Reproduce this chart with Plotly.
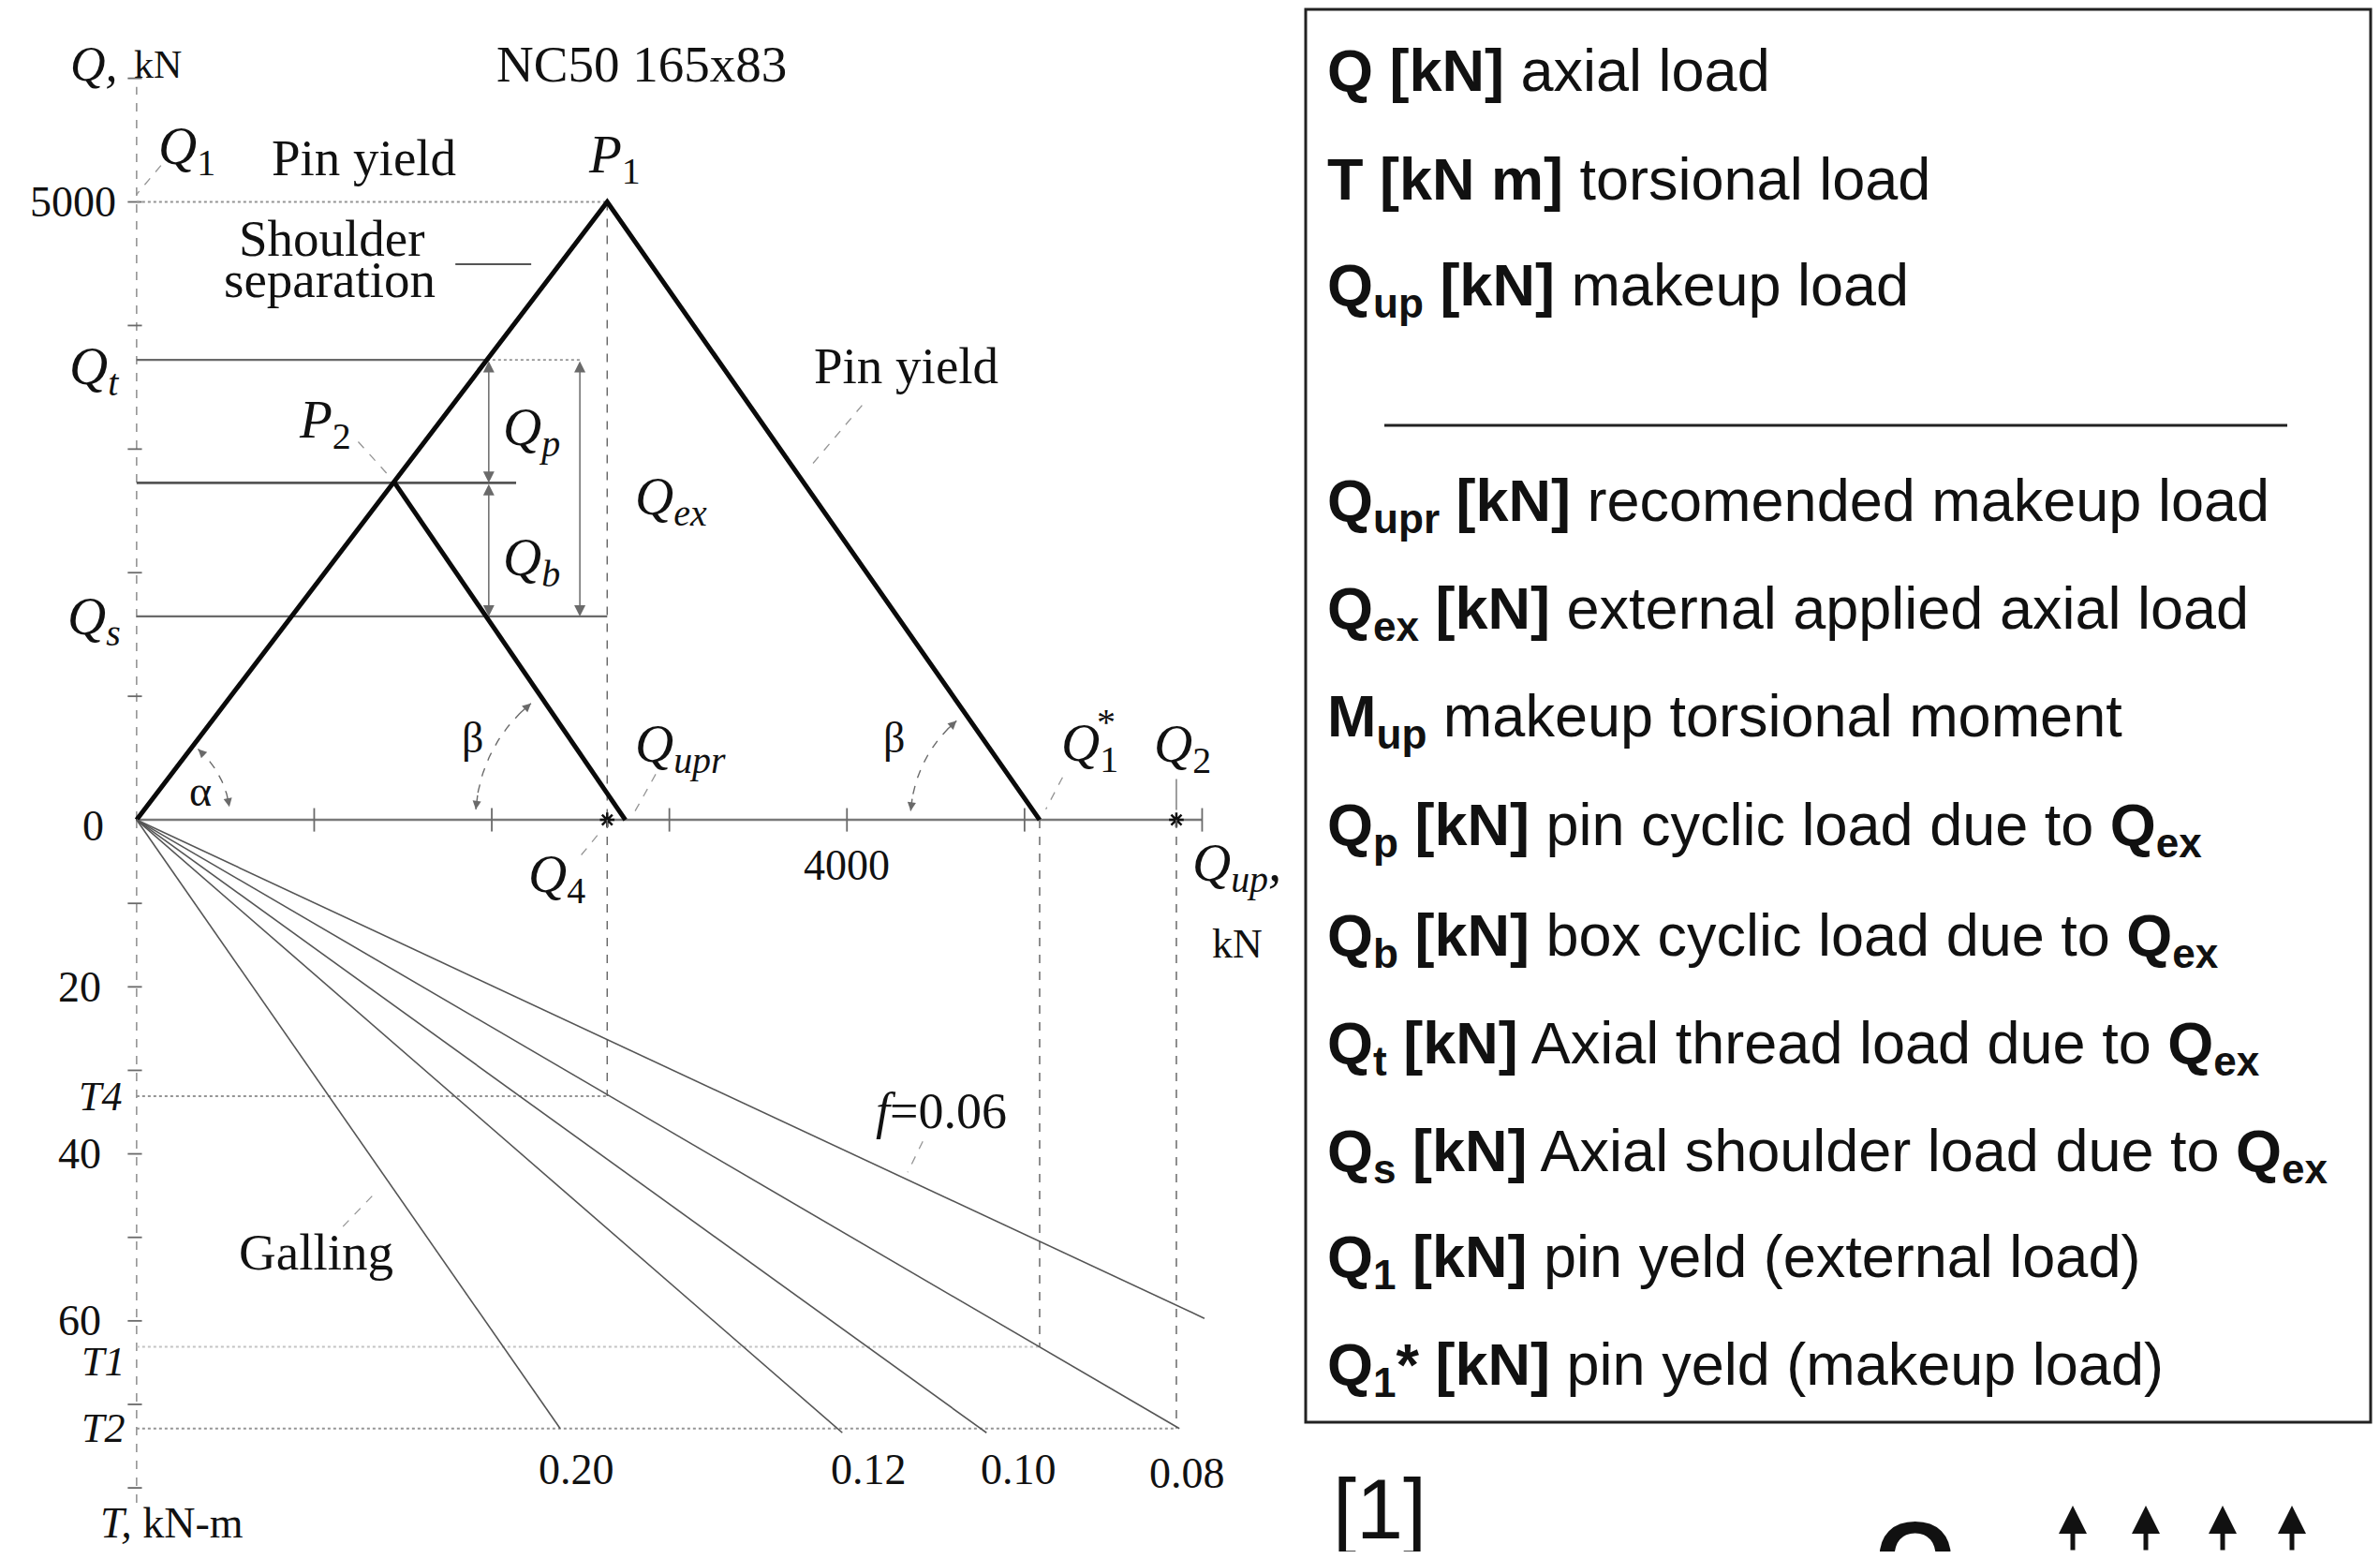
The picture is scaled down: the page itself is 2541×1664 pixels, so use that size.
import numpy as np
import plotly.graph_objects as go

# ---------------- values ----------------
qup_ticks = [1000, 2000, 3000, 4000, 5000, 6000]      # kN, makeup-load axis
q_ticks = [1000, 2000, 3000, 4000, 5000, 6000]        # kN, axial-load axis
t_ticks = [10, 20, 30, 40, 50, 60, 70, 80]            # kN-m, torque axis
qup_axis_end = 6000
q_axis_top = 5930
t_axis_end = 82

p1_qup, p1_q = 2650, 5000      # P1
p2_qup, p2_q = 1453, 2727      # P2
q1_star = 5085                 # Q1*
q_upr = 2752                   # Qupr
q4 = 2650                      # Q4
q2 = 5855                      # Q2
q_t = 3722                     # Qt level
q_s = 1646                     # Qs level
q_t_line_end = 2496
p2_line_end = 2137
qp_dim_x = 1983
qex_dim_x = 2496
t4, t1, t2 = 33.1, 63.1, 72.9  # kN-m
friction_labels = ["0.20", "0.12", "0.10", "0.08"]
friction_end_qup = [2385, 3974, 4786, 5872, 6013]
friction_end_t = [72.9, 73.4, 73.4, 72.9, 59.7]

legend_lines = [
    "<b>Q [kN]</b> axial load",
    "<b>T [kN m]</b> torsional load",
    "<b>Q<sub>up</sub> [kN]</b> makeup load",
    "<b>Q<sub>upr</sub> [kN]</b> recomended makeup load",
    "<b>Q<sub>ex</sub> [kN]</b> external applied axial load",
    "<b>M<sub>up</sub></b> makeup torsional moment",
    "<b>Q<sub>p</sub> [kN]</b> pin cyclic load due to <b>Q<sub>ex</sub></b>",
    "<b>Q<sub>b</sub> [kN]</b> box cyclic load due to <b>Q<sub>ex</sub></b>",
    "<b>Q<sub>t</sub> [kN]</b> Axial thread load due to <b>Q<sub>ex</sub></b>",
    "<b>Q<sub>s</sub> [kN]</b> Axial shoulder load due to <b>Q<sub>ex</sub></b>",
    "<b>Q<sub>1</sub> [kN]</b> pin yeld (external load)",
    "<b>Q<sub>1</sub>* [kN]</b> pin yeld (makeup load)",
]
legend_y_page = [74.5, 191, 308, 538, 653, 768.5, 885, 1002, 1117, 1232, 1345, 1460]

# ---------------- geometry of the page ----------------
W_PAGE, H_PAGE, OFF = 2541, 1664, 8
W, H = W_PAGE - 2 * OFF, H_PAGE - 2 * OFF
ORIGIN_X = 145.85 - OFF
ORIGIN_Y = 875.07 - OFF
PX_QUP = 0.18960   # px per kN (horizontal)
PX_Q = 0.13191     # px per kN (upper vertical)
PX_T = 8.9128      # px per kN-m (lower vertical)
upper_bottom = 930 - OFF
lower_top = 820 - OFF


def pxp(xp):
    return (xp - OFF) / W


def pyp(yp):
    return 1 - (yp - OFF) / H


SERIF = "Liberation Serif"
SANS = "Liberation Sans"
INK = "#111111"
GRAY = "#6a6a6a"
LGRAY = "#959595"

fig = go.Figure()


def line(xs, ys, sub="u", color=GRAY, width=2, dash="solid"):
    xa, ya = ("x", "y") if sub == "u" else ("x2", "y2")
    fig.add_trace(go.Scatter(x=xs, y=ys, mode="lines", xaxis=xa, yaxis=ya,
                             line=dict(color=color, width=width, dash=dash),
                             hoverinfo="skip", showlegend=False))


def ticks_h(vals, sub, left, right):
    xs, ys = [], []
    for v in vals:
        xs += [-left, right, None]
        ys += [v, v, None]
    line(xs, ys, sub, GRAY, 1.8)


# axes
line([0, qup_axis_end], [0, 0], "u", "#7a7a7a", 2.6)
xs, ys = [], []
for v in qup_ticks:
    xs += [v, v, None]
    ys += [-95, 95, None]
line(xs, ys, "u", GRAY, 1.8)
line([0, 0], [0, q_axis_top], "u", LGRAY, 1.6, "dash")
line([0, 0], [0, t_axis_end], "l", LGRAY, 1.6, "dash")
ticks_h(q_ticks, "u", 50, 30)
ticks_h(t_ticks, "l", 50, 30)

# construction lines
q_t_cross = q_t * p1_qup / p1_q
line([0, p1_qup], [p1_q, p1_q], "u", LGRAY, 2, "dot")
line([0, q_t_cross], [q_t, q_t], "u", GRAY, 2.2)
line([q_t_cross, q_t_line_end], [q_t, q_t], "u", LGRAY, 1.8, "dot")
line([0, p2_line_end], [p2_q, p2_q], "u", "#555555", 2.6)
line([0, p1_qup], [q_s, q_s], "u", GRAY, 2.2)
line([p1_qup, p1_qup], [p1_q, 0], "u", GRAY, 1.5, "dash")
line([p1_qup, p1_qup], [0, t4], "l", GRAY, 1.5, "dash")
line([q1_star, q1_star], [0, t1], "l", GRAY, 1.5, "dash")
line([q2, q2], [0, t2], "l", GRAY, 1.5, "dash")
line([q2, q2], [80, 330], "u", GRAY, 1.3)
line([0, p1_qup], [t4, t4], "l", LGRAY, 2, "dot")
line([0, q1_star], [t1, t1], "l", "#c4c4c4", 2, "dot")
line([0, q2], [t2, t2], "l", LGRAY, 2, "dot")

# friction lines
for ex, et in zip(friction_end_qup, friction_end_t):
    line([0, ex], [0, et], "l", "#555555", 1.6)

# main triangle lines
line([0, p1_qup, q1_star], [0, p1_q, 0], "u", "#0a0a0a", 5)
line([p2_qup, q_upr], [p2_q, 0], "u", "#0a0a0a", 5)

# leaders
line([137, 0], [5295, 5061], "u", LGRAY, 1.3, "dash")
line([1795, 2222], [4496, 4496], "u", "#555555", 2)
line([4085, 3803], [3354, 2875], "u", LGRAY, 1.3, "dash")
line([1248, 1410], [3059, 2801], "u", LGRAY, 1.3, "dash")
line([2923, 2803], [369, 61], "u", LGRAY, 1.3, "dash")
line([5214, 5120], [344, 86], "u", LGRAY, 1.3, "dash")
line([2504, 2624], [4.2, 1.1], "l", LGRAY, 1.3, "dash")
line([4427, 4342], [38.5, 42.2], "l", LGRAY, 1.3, "dash")
line([1162, 1342], [48.7, 44.7], "l", LGRAY, 1.3, "dash")

# angle arcs (computed in pixel space)
annotations = []


def arc(cx, r_px, th0, th1):
    th = np.radians(np.linspace(th0, th1, 40))
    return cx + r_px * np.cos(th) / PX_QUP, r_px * np.sin(th) / PX_Q


def arc_with_heads(cx, r_px, th0, th1):
    ax_, ay_ = arc(cx, r_px, th0, th1)
    line(list(ax_), list(ay_), "u", GRAY, 1.4, "dash")
    step = 6 if th1 > th0 else -6
    for (a_tip, a_tail) in [(th0, th0 + step), (th1, th1 - step)]:
        tx, ty = arc(cx, r_px, a_tip, a_tip)
        sx, sy = arc(cx, r_px, a_tail, a_tail)
        annotations.append(dict(x=tx[0], y=ty[0], ax=sx[0], ay=sy[0], xref="x", yref="y",
                                axref="x", ayref="y", text="", showarrow=True,
                                arrowhead=2, arrowsize=1.3, arrowwidth=1.4,
                                arrowcolor=GRAY, standoff=0))


arc_with_heads(0, 100, 49, 8)
arc_with_heads(q_upr, 160, 176, 129)
arc_with_heads(q1_star, 138, 176, 130)

# dimension arrows
for (xv, ya, yb) in [(qp_dim_x, q_t, p2_q), (qp_dim_x, p2_q, q_s), (qex_dim_x, q_t, q_s)]:
    annotations.append(dict(x=xv, y=yb, ax=xv, ay=ya, xref="x", yref="y", axref="x",
                            ayref="y", text="", showarrow=True, arrowhead=2,
                            arrowsize=1.6, arrowwidth=1.5, arrowcolor=GRAY,
                            arrowside="end+start", standoff=0, startstandoff=0,
                            startarrowhead=2, startarrowsize=1.6))

# asterisks
fig.add_trace(go.Scatter(x=[q4, q2], y=[0, 0], mode="markers", xaxis="x", yaxis="y",
                         marker=dict(symbol="asterisk-open", size=13, color="#111111",
                                     line=dict(color="#111111", width=2.5)),
                         hoverinfo="skip", showlegend=False))


def txt(text, x, y, sub="u", size=54, family=SERIF, xanchor="center", yanchor="middle"):
    xa, ya = ("x", "y") if sub == "u" else ("x2", "y2")
    annotations.append(dict(text=text, x=x, y=y, xref=xa, yref=ya, showarrow=False,
                            font=dict(family=family, size=size, color=INK),
                            xanchor=xanchor, yanchor=yanchor))


MATH = 57
# upper labels
txt("<i>Q,</i>", -239, 6118, size=52)
txt("kN", 120, 6110, size=42)
txt("NC50 165x83", 2846, 6118, size=55)
txt("<i>Q</i><sub>1</sub>", 282, 5420, size=MATH)
txt("Pin yield", 1282, 5356, size=55)
txt("<i>P</i><sub>1</sub>", 2692, 5356, size=MATH)
txt("Shoulder", 1103, 4705, size=55)
txt("separation", 1085, 4373, size=55)
txt("Pin yield", 4333, 3673, size=55)
txt("<i>Q<sub>t</sub></i>", -239, 3640, size=MATH)
txt("<i>P</i><sub>2</sub>", 1060, 3210, size=MATH)
txt("<i>Q<sub>p</sub></i>", 2222, 3150, size=MATH)
txt("<i>Q<sub>ex</sub></i>", 3009, 2585, size=MATH)
txt("<i>Q<sub>b</sub></i>", 2222, 2095, size=MATH)
txt("<i>Q<sub>s</sub></i>", -239, 1615, size=MATH)
txt("α", 359, 233, size=46)
txt("β", 1889, 663, size=46)
txt("β", 4265, 663, size=46)
txt("<i>Q<sub>upr</sub></i>", 3060, 585, size=MATH)
txt("<i>Q</i><sub>1</sub>", 5368, 590, size=MATH)
txt("*", 5460, 790, size=40)
txt("<i>Q</i><sub>2</sub>", 5889, 585, size=MATH)
txt("5000", -103, 5000, size=46, xanchor="right")

# lower labels
txt("0", -171, 0.7, "l", size=46, xanchor="right")
txt("4000", 4000, 5.45, "l", size=46)
txt("<i>Q</i><sub>4</sub>", 2368, 7.0, "l", size=MATH)
txt("<i>Q<sub>up</sub>,</i>", 6197, 5.6, "l", size=MATH)
txt("kN", 6197, 14.9, "l", size=44)
for v in [20, 40, 60]:
    txt(str(v), -188, v, "l", size=46, xanchor="right")
txt("<i>T4</i>", -205, t4, "l", size=44)
txt("<i>T1</i>", -188, 64.9, "l", size=44)
txt("<i>T2</i>", -188, t2, "l", size=44)
txt("<i>f</i>=0.06", 4530, 34.9, "l", size=54)
txt("Galling", 1009, 51.8, "l", size=55)
for lab, xv, tv in zip(friction_labels, [2479, 4120, 4966, 5915], [77.8, 77.8, 77.8, 78.2]):
    txt(lab, xv, tv, "l", size=46)
txt("<i>T,</i> kN-m", 197, 84.2, "l", size=46)

# legend box text
for t, yp in zip(legend_lines, legend_y_page):
    annotations.append(dict(text=t, x=pxp(1415), y=pyp(yp), xref="paper", yref="paper",
                            xanchor="left", yanchor="middle", showarrow=False,
                            font=dict(family=SANS, size=63, color="#111111")))
annotations.append(dict(text="[1]", x=pxp(1421), y=pyp(1611), xref="paper", yref="paper",
                        xanchor="left", yanchor="middle", showarrow=False,
                        font=dict(family=SANS, size=90, color="#111111")))
annotations.append(dict(text="<b>Q</b>", x=pxp(2045), y=pyp(1598), xref="paper", yref="paper",
                        xanchor="center", yanchor="top", showarrow=False,
                        font=dict(family=SANS, size=110, color="#111111")))
for xa in [2213, 2291, 2373, 2447]:
    annotations.append(dict(x=pxp(xa), y=pyp(1607), xref="paper", yref="paper",
                            ax=0, ay=120, text="", showarrow=True, arrowhead=2,
                            arrowsize=1.2, arrowwidth=5, arrowcolor="#111111", standoff=0))

shapes = [
    dict(type="rect", xref="paper", yref="paper", x0=pxp(1394), x1=pxp(2531),
         y0=pyp(1518), y1=pyp(10), line=dict(color="#222222", width=3)),
    dict(type="line", xref="paper", yref="paper", x0=pxp(1478), x1=pxp(2442),
         y0=pyp(454), y1=pyp(454), line=dict(color="#222222", width=3)),
]

fig.update_layout(
    width=W, height=H, margin=dict(l=0, r=0, t=0, b=0),
    paper_bgcolor="white", plot_bgcolor="rgba(0,0,0,0)", showlegend=False,
    xaxis=dict(domain=[0, 1], range=[-ORIGIN_X / PX_QUP, (W - ORIGIN_X) / PX_QUP],
               visible=False, anchor="y"),
    yaxis=dict(domain=[1 - upper_bottom / H, 1],
               range=[-(upper_bottom - ORIGIN_Y) / PX_Q, ORIGIN_Y / PX_Q],
               visible=False, anchor="x"),
    xaxis2=dict(domain=[0, 1], matches="x", visible=False, anchor="y2"),
    yaxis2=dict(domain=[0, 1 - lower_top / H],
                range=[(H - ORIGIN_Y) / PX_T, -(ORIGIN_Y - lower_top) / PX_T],
                visible=False, anchor="x2"),
    annotations=annotations, shapes=shapes,
)

fig.write_html("out.html")
